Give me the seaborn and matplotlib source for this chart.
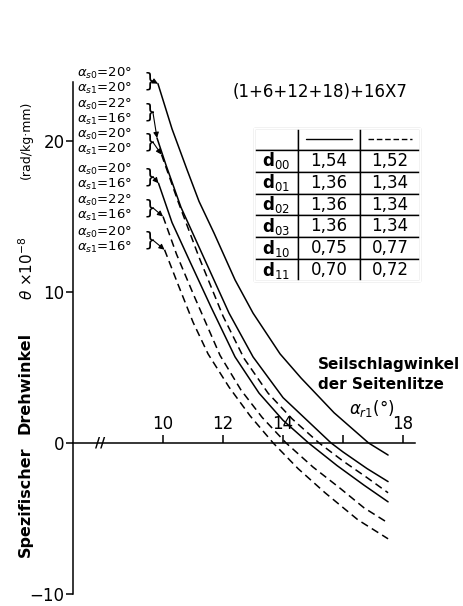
import pandas as pd
import matplotlib
matplotlib.use("Agg")
import matplotlib.pyplot as plt
from matplotlib.patches import Rectangle
import seaborn as sns

sns.set_style("ticks")
plt.rcParams["font.family"] = ["DejaVu Sans"]
plt.rcParams.update({"text.color": "black", "axes.edgecolor": "black",
                     "xtick.color": "black", "ytick.color": "black"})

# %%
# curves: alpha_r1 (deg) vs spec. Drehwinkel (x1e-8 rad/kg mm)
# solid, a_s0=20 a_s1=20
x1 = [9.83, 10.3, 10.8, 11.2, 11.7, 12.4, 13.0, 13.9, 14.6, 15.7, 16.85, 17.5]
y1 = [23.8, 20.8, 18.1, 16.0, 13.9, 10.8, 8.6, 5.9, 4.3, 2.0, 0.0, -0.8]
# solid, a_s0=22 a_s1=16
x2 = [9.8, 10.1, 10.6, 11.4, 12.2, 13.0, 14.0, 15.6, 16.0, 16.8, 17.5]
y2 = [20.2, 18.4, 15.6, 12.1, 8.6, 5.7, 3.0, 0.0, -0.6, -1.7, -2.56]
# dashed, a_s0=20 a_s1=20
x3 = [9.95, 10.5, 11.2, 12.0, 12.7, 13.5, 14.3, 15.2, 16.0, 16.8, 17.5]
y3 = [19.1, 16.0, 12.3, 8.4, 5.6, 3.3, 1.6, 0.0, -1.2, -2.3, -3.3]
# solid, a_s0=20 a_s1=16
x4 = [9.85, 10.3, 10.9, 11.6, 12.4, 13.2, 14.0, 14.85, 15.8, 16.7, 17.5]
y4 = [17.2, 14.6, 12.0, 9.0, 5.7, 3.3, 1.5, 0.0, -1.5, -2.8, -3.9]
# dashed, a_s0=22 a_s1=16
x5 = [10.0, 10.45, 11.0, 11.9, 12.6, 13.3, 14.1, 15.0, 15.9, 16.7, 17.5]
y5 = [15.0, 12.5, 9.9, 5.8, 3.5, 1.7, 0.0, -1.6, -3.0, -4.3, -5.3]
# dashed, a_s0=20 a_s1=16
x6 = [10.05, 10.5, 11.0, 11.5, 12.2, 12.9, 13.67, 14.5, 15.4, 16.5, 17.5]
y6 = [12.8, 10.5, 8.0, 5.9, 3.7, 1.8, 0.0, -1.7, -3.3, -5.1, -6.35]

kinds = ["solid", "solid", "dashed", "solid", "dashed", "dashed"]
a_s0 = [20, 22, 20, 20, 22, 20]
a_s1 = [20, 16, 20, 16, 16, 16]

xticks = [10, 12, 14, 16, 18]
xticklabels = ["10", "12", "14", "", "18"]
yticks = [-10, 0, 10, 20]

row_labels = ["d$_{00}$", "d$_{01}$", "d$_{02}$", "d$_{03}$", "d$_{10}$", "d$_{11}$"]
d_solid = ["1,54", "1,36", "1,36", "1,36", "0,75", "0,70"]
d_dashed = ["1,52", "1,34", "1,34", "1,34", "0,77", "0,72"]

# %%
xs = [x1, x2, x3, x4, x5, x6]
ys = [y1, y2, y3, y4, y5, y6]
df = pd.concat([pd.DataFrame({"x": x, "y": y, "curve": i, "kind": k})
                for i, (x, y, k) in enumerate(zip(xs, ys, kinds))])

fig = plt.figure(figsize=(4.64, 6.06), dpi=100)
ax = fig.add_axes([73 / 464, 0, 391 / 464, 1])

sns.lineplot(data=df, x="x", y="y", units="curve", estimator=None, style="kind",
             dashes={"solid": "", "dashed": (5, 3)}, color="black", sort=False,
             legend=False, linewidth=1.1, ax=ax)

ax.set_xlim(7.0, 20.03)
ax.set_ylim(-10.8, 29.34)
ax.set_xlabel("")
ax.set_ylabel("")

# axes: left spine + x axis drawn at theta = 0, ticks/labels above it
ax.spines["right"].set_visible(False)
ax.spines["bottom"].set_visible(False)
ax.spines["left"].set_bounds(-10, 23.9)
ax.spines["top"].set_position(("data", 0))
ax.spines["top"].set_bounds(7, 18.4)
for s in ["left", "top"]:
    ax.spines[s].set_linewidth(1.1)
ax.xaxis.tick_top()
ax.set_xticks(xticks)
ax.set_xticklabels(xticklabels)
ax.set_yticks(yticks)
ax.tick_params(axis="x", direction="out", length=6, width=1.1, pad=1, labelsize=12)
ax.tick_params(axis="y", direction="out", length=5, width=1.1, pad=1, labelsize=12)
ax.text(7.9, 0, "//", ha="center", va="center", fontsize=10, fontweight="bold")

# y axis label in pieces
ax.text(5.4, -3.9, "Spezifischer", rotation=90, ha="center", va="center",
        fontsize=11.5, fontweight="bold")
ax.text(5.4, 4.0, "Drehwinkel", rotation=90, ha="center", va="center",
        fontsize=11.5, fontweight="bold")
ax.text(5.45, 11.6, r"$\theta$ ×10$^{-8}$", rotation=90, ha="center", va="center",
        fontsize=11)
ax.text(5.45, 20.1, "(rad/kg·mm)", rotation=90, ha="center", va="center", fontsize=9)

# x axis label
ax.text(15.15, 5.2, "Seilschlagwinkel", ha="left", va="center", fontsize=11,
        fontweight="bold")
ax.text(15.15, 3.84, "der Seitenlitze", ha="left", va="center", fontsize=11,
        fontweight="bold")
ax.text(16.2, 2.25, r"$\alpha_{r1}$(°)", ha="left", va="center", fontsize=12)

ax.text(15.23, 23.25, "(1+6+12+18)+16X7", ha="center", va="center", fontsize=12)

# curve labels with braces and arrows
pair_y = [23.98, 21.94, 19.93, 17.64, 15.58, 13.44]
for i in range(6):
    ax.text(7.13, pair_y[i] + 0.5, r"$\alpha_{s0}$=%d°" % a_s0[i], ha="left",
            va="center", fontsize=9.5)
    ax.text(7.13, pair_y[i] - 0.5, r"$\alpha_{s1}$=%d°" % a_s1[i], ha="left",
            va="center", fontsize=9.5)
    ax.text(9.55, pair_y[i], "}", ha="center", va="center", fontsize=14)
    ax.annotate("", xy=(xs[i][0], ys[i][0]), xytext=(9.66, pair_y[i]),
                arrowprops=dict(arrowstyle="-|>", color="black", lw=0.8,
                                shrinkA=0, shrinkB=0, mutation_scale=8))

# table
tx0, ty0, tw, th = (254 - 73) / 391, 1 - 281 / 606, 166 / 391, 153 / 606
cells = [["", "", ""]] + [[a, b, c] for a, b, c in zip(row_labels, d_solid, d_dashed)]
tb = ax.table(cellText=cells, colWidths=[44, 62, 60], cellLoc="center",
              bbox=[tx0, ty0, tw, th])
tb.auto_set_font_size(False)
for (r, c), cell in tb.get_celld().items():
    cell.set_linewidth(1.0)
    cell.set_edgecolor("black")
    cell.get_text().set_fontsize(12)
    cell.get_text().set_color("black")
    if c == 0:
        cell.get_text().set_fontweight("bold")
ax.add_patch(Rectangle((tx0, ty0), tw, th, transform=ax.transAxes, fill=False,
                       lw=1.8, zorder=5))
hy = ty0 + th * 13 / 14
c1, c2 = tx0 + tw * 44 / 166, tx0 + tw * 106 / 166
ax.plot([c1 + 0.02, c2 - 0.02], [hy, hy], transform=ax.transAxes, color="black", lw=1)
ax.plot([c2 + 0.02, tx0 + tw - 0.02], [hy, hy], transform=ax.transAxes, color="black",
        lw=1, dashes=(4, 2))

fig.savefig("out.png", dpi=100)
